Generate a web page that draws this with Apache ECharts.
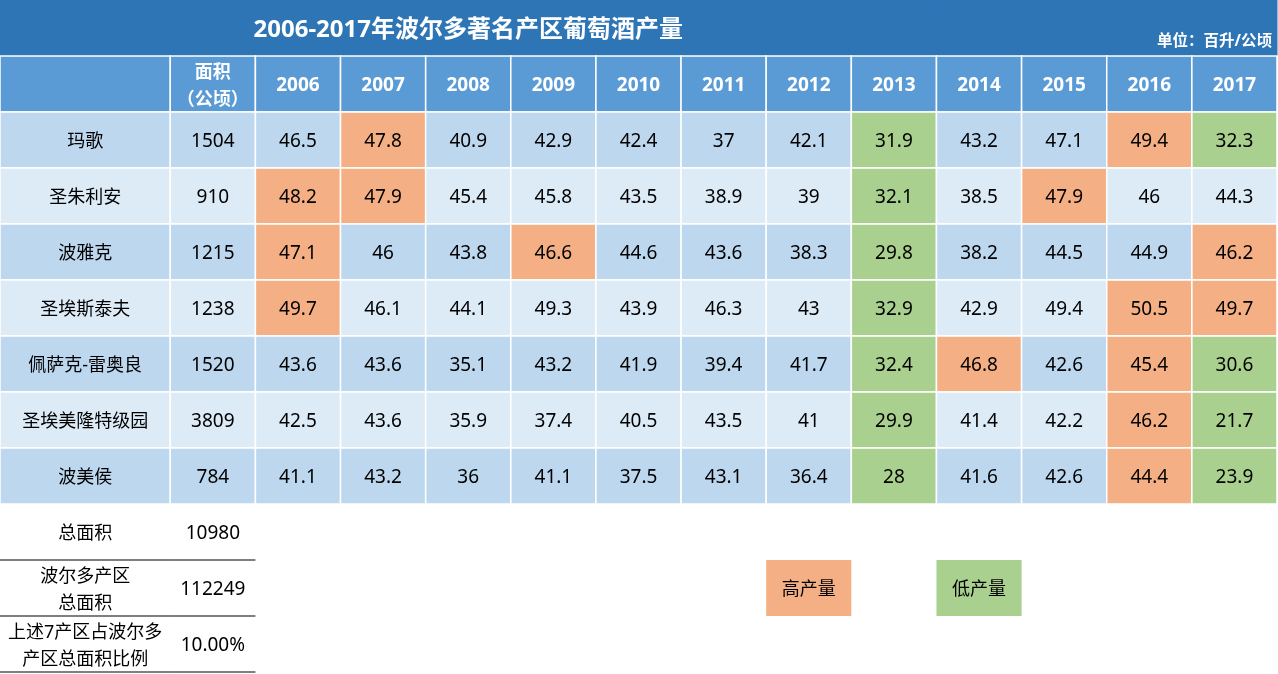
<!DOCTYPE html>
<html>
<head>
<meta charset="utf-8">
<script src="https://cdn.jsdelivr.net/npm/echarts@6/dist/echarts.min.js"></script>
<style>
html, body { margin: 0; padding: 0; background: #fff; }
#main { width: 1278px; height: 674px; }
</style>
</head>
<body>
<div id="main"></div>
<script>
// data
var title = '2006-2017年波尔多著名产区葡萄酒产量';
var unitText = '单位：百升/公顷';
var years = ['2006', '2007', '2008', '2009', '2010', '2011', '2012', '2013', '2014', '2015', '2016', '2017'];
var regions = ['玛歌', '圣朱利安', '波雅克', '圣埃斯泰夫', '佩萨克-雷奥良', '圣埃美隆特级园', '波美侯'];
var areas = [1504, 910, 1215, 1238, 1520, 3809, 784];
var yields = [
    [46.5, 47.8, 40.9, 42.9, 42.4, 37, 42.1, 31.9, 43.2, 47.1, 49.4, 32.3],
    [48.2, 47.9, 45.4, 45.8, 43.5, 38.9, 39, 32.1, 38.5, 47.9, 46, 44.3],
    [47.1, 46, 43.8, 46.6, 44.6, 43.6, 38.3, 29.8, 38.2, 44.5, 44.9, 46.2],
    [49.7, 46.1, 44.1, 49.3, 43.9, 46.3, 43, 32.9, 42.9, 49.4, 50.5, 49.7],
    [43.6, 43.6, 35.1, 43.2, 41.9, 39.4, 41.7, 32.4, 46.8, 42.6, 45.4, 30.6],
    [42.5, 43.6, 35.9, 37.4, 40.5, 43.5, 41, 29.9, 41.4, 42.2, 46.2, 21.7],
    [41.1, 43.2, 36, 41.1, 37.5, 43.1, 36.4, 28, 41.6, 42.6, 44.4, 23.9]
];
// [row, yearIndex]
var highCells = [[0, 1], [0, 10], [1, 0], [1, 1], [1, 9], [2, 0], [2, 3], [2, 11], [3, 0], [3, 10], [3, 11], [4, 8], [4, 10], [5, 10], [6, 10]];
var lowCells = [[0, 7], [0, 11], [1, 7], [2, 7], [3, 7], [4, 7], [4, 11], [5, 7], [5, 11], [6, 7], [6, 11]];
var areaHeader = '面积\n（公顷）';
var summaryLabels = ['总面积', '波尔多产区\n总面积', '上述7产区占波尔多\n产区总面积比例'];
var summaryValues = ['10980', '112249', '10.00%'];
var legendLabels = ['高产量', '低产量'];

var C_TITLE = '#2E75B6', C_HEAD = '#5B9BD5', C_DARK = '#BDD7EE', C_LIGHT = '#DDEBF7';
var C_HIGH = '#F4B084', C_LOW = '#A9D08E';
var FONT = '"Noto Sans", "Noto Sans CJK SC", sans-serif';

function isIn(list, r, c) {
    for (var i = 0; i < list.length; i++) {
        if (list[i][0] === r && list[i][1] === c) return true;
    }
    return false;
}

var cells = [];
function addCell(x0, y0, x1, y1, text, o) {
    o = o || {};
    cells.push({
        value: [x0, y0, x1, y1],
        text: text,
        fill: o.fill || null,
        stroke: o.stroke || null,
        lw: o.lw || 1.5,
        color: o.color || '#000',
        bold: !!o.bold,
        size: o.size || 18,
        align: o.align || 'center',
        vpos: o.vpos || 'middle',
        bottomLine: !!o.bottomLine
    });
}

// title bar
addCell(0, 0, 11, 1, title, { fill: C_TITLE, stroke: C_TITLE, lw: 1, color: '#fff', bold: true, size: 24 });
addCell(11, 0, 15, 1, unitText, { fill: C_TITLE, stroke: C_TITLE, lw: 1, color: '#fff', bold: true, size: 15.5, align: 'right', vpos: 'bottom' });

// header
addCell(0, 1, 2, 2, '', { fill: C_HEAD, stroke: '#fff', color: '#fff', bold: true });
addCell(2, 1, 3, 2, areaHeader, { fill: C_HEAD, stroke: '#fff', color: '#fff', bold: true, size: 18 });
for (var j = 0; j < years.length; j++) {
    addCell(3 + j, 1, 4 + j, 2, years[j], { fill: C_HEAD, stroke: '#fff', color: '#fff', bold: true, size: 19 });
}

// body
for (var r = 0; r < regions.length; r++) {
    var base = r % 2 === 0 ? C_DARK : C_LIGHT;
    addCell(0, 2 + r, 2, 3 + r, regions[r], { fill: base, stroke: '#fff' });
    addCell(2, 2 + r, 3, 3 + r, String(areas[r]), { fill: base, stroke: '#fff', size: 19 });
    for (var k = 0; k < years.length; k++) {
        var f = base;
        if (isIn(highCells, r, k)) f = C_HIGH;
        if (isIn(lowCells, r, k)) f = C_LOW;
        addCell(3 + k, 2 + r, 4 + k, 3 + r, String(yields[r][k]), { fill: f, stroke: '#fff', size: 19 });
    }
}

// summary
for (var s = 0; s < summaryLabels.length; s++) {
    addCell(0, 9 + s, 2, 10 + s, summaryLabels[s], { bottomLine: true });
    addCell(2, 9 + s, 3, 10 + s, summaryValues[s], { bottomLine: true, size: 19 });
}

// legend boxes
addCell(9, 10, 10, 11, legendLabels[0], { fill: C_HIGH });
addCell(11, 10, 12, 11, legendLabels[1], { fill: C_LOW });

var chart = echarts.init(document.getElementById('main'), null, { renderer: 'canvas' });

var option = {
    animation: false,
    grid: { left: 0, top: 0, width: 1277, height: 672 },
    xAxis: { type: 'value', min: 0, max: 15, show: false },
    yAxis: { type: 'value', min: 0, max: 12, inverse: true, show: false },
    series: [{
        type: 'custom',
        encode: { x: [0, 2], y: [1, 3] },
        data: cells.map(function (c) { return c.value; }),
        renderItem: function (params, api) {
            var c = cells[params.dataIndex];
            var p0 = api.coord([api.value(0), api.value(1)]);
            var p1 = api.coord([api.value(2), api.value(3)]);
            var w = p1[0] - p0[0], h = p1[1] - p0[1];
            var children = [];
            if (c.fill) {
                children.push({
                    type: 'rect',
                    shape: { x: p0[0], y: p0[1], width: w, height: h },
                    style: { fill: c.fill, stroke: c.stroke, lineWidth: c.stroke ? c.lw : 0 }
                });
            }
            if (c.bottomLine) {
                children.push({
                    type: 'line',
                    shape: { x1: p0[0], y1: p1[1], x2: p1[0], y2: p1[1] },
                    style: { stroke: '#000', lineWidth: 1.2 }
                });
            }
            if (c.text) {
                var tx = c.align === 'right' ? p1[0] - 5 : p0[0] + w / 2;
                var ty = c.vpos === 'bottom' ? p1[1] - 14 : p0[1] + h / 2 + 2;
                children.push({
                    type: 'text',
                    x: tx,
                    y: ty,
                    style: {
                        text: c.text,
                        fill: c.color,
                        fontFamily: FONT,
                        fontSize: c.size,
                        fontWeight: c.bold ? 'bold' : 'normal',
                        lineHeight: 27,
                        align: c.align,
                        verticalAlign: 'middle'
                    }
                });
            }
            return { type: 'group', children: children };
        }
    }]
};

chart.setOption(option);
window.addEventListener('resize', chart.resize);
</script>
</body>
</html>
